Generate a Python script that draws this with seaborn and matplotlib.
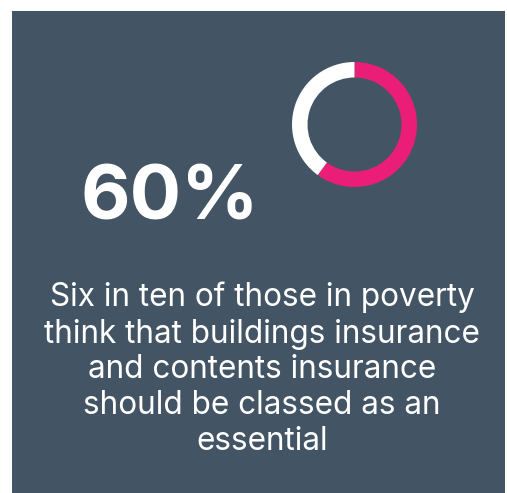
import matplotlib
matplotlib.use("Agg")
import matplotlib.pyplot as plt
import seaborn as sns
from matplotlib.patches import Rectangle

sns.set_theme(style="white")
plt.rcParams['font.family'] = ['Inter', 'DejaVu Sans']

# ---- data ----
labels = ["Think essential", "Other"]
values = [60, 40]
big_label = "60%"
caption_lines = [
    "Six in ten of those in poverty",
    "think that buildings insurance",
    "and contents insurance",
    "should be classed as an",
    "essential",
]

PANEL = "#435565"
PINK = "#EA1E76"
W, H = 507, 493

fig = plt.figure(figsize=(W / 100, H / 100), dpi=100)
fig.patch.set_facecolor("white")

# background panel
bg = fig.add_axes([0, 0, 1, 1])
bg.set_xlim(0, W)
bg.set_ylim(H, 0)
bg.axis("off")
bg.add_patch(Rectangle((12, 11), 493, 482, facecolor=PANEL, edgecolor="none"))

# donut
cx, cy, r = 354.5, 124.5, 62.5
ax = fig.add_axes([(cx - r) / W, 1 - (cy + r) / H, 2 * r / W, 2 * r / H])
ax.pie(values, colors=[PINK, "white"], startangle=90, counterclock=False,
       radius=1, wedgeprops=dict(width=15.5 / 62.5, edgecolor="none"))
ax.set_xlim(-1, 1)
ax.set_ylim(-1, 1)
ax.set_aspect("equal")
ax.axis("off")

# big number
bg.text(169.5, 219, big_label, color="white", fontsize=55, fontweight="bold",
        ha="center", va="baseline")

# caption
baselines = [306, 342.5, 378, 413.5, 450]
for line, yb in zip(caption_lines, baselines):
    bg.text(262, yb, line, color="white", fontsize=22.7, ha="center", va="baseline")

fig.savefig("out.png", dpi=100, facecolor="white")
